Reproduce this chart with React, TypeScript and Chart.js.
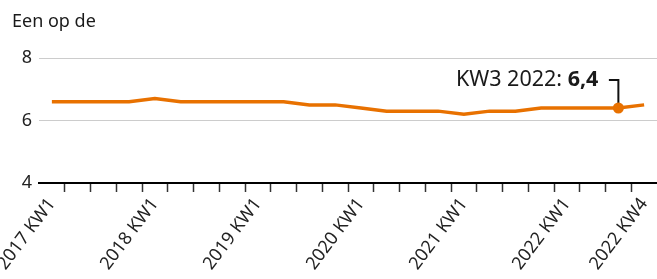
import React, { useEffect, useRef } from 'react';
import { Chart, registerables } from 'chart.js';

Chart.register(...registerables);

const categories = [
  '2017 KW1', '2017 KW2', '2017 KW3', '2017 KW4',
  '2018 KW1', '2018 KW2', '2018 KW3', '2018 KW4',
  '2019 KW1', '2019 KW2', '2019 KW3', '2019 KW4',
  '2020 KW1', '2020 KW2', '2020 KW3', '2020 KW4',
  '2021 KW1', '2021 KW2', '2021 KW3', '2021 KW4',
  '2022 KW1', '2022 KW2', '2022 KW3', '2022 KW4',
];
const values = [
  6.6, 6.6, 6.6, 6.6,
  6.7, 6.6, 6.6, 6.6,
  6.6, 6.6, 6.5, 6.5,
  6.4, 6.3, 6.3, 6.3,
  6.2, 6.3, 6.3, 6.4,
  6.4, 6.4, 6.4, 6.5,
];
const shownLabels = ['2017 KW1', '2018 KW1', '2019 KW1', '2020 KW1', '2021 KW1', '2022 KW1', '2022 KW4'];
const yMin = 4;
const yMax = 8;
const yStep = 2;
const titleText = 'Een op de';
const highlightIndex = 22;
const highlightPrefix = 'KW3 2022: ';
const highlightValue = '6,4';

const ORANGE = '#e87100';
const FONT = '"Noto Sans", sans-serif';

const overlayPlugin = {
  id: 'overlay',
  afterDraw(chart: any) {
    const ctx = chart.ctx;
    ctx.save();
    ctx.fillStyle = '#1a1a1a';
    ctx.font = `18px ${FONT}`;
    ctx.textAlign = 'left';
    ctx.textBaseline = 'alphabetic';
    ctx.fillText(titleText, 12, 27);

    const meta = chart.getDatasetMeta(0);
    const pt = meta.data[highlightIndex];
    if (pt) {
      const px = pt.x;
      const py = pt.y;
      const lineY = py - 28;
      const textRight = px - 20;
      const baseY = py - 22;
      ctx.font = `bold 21.5px ${FONT}`;
      const wBold = ctx.measureText(highlightValue).width;
      ctx.fillText(highlightValue, textRight - wBold, baseY);
      ctx.font = `21.5px ${FONT}`;
      const wReg = ctx.measureText(highlightPrefix).width;
      ctx.fillText(highlightPrefix, textRight - wBold - wReg, baseY);
      ctx.strokeStyle = '#111';
      ctx.lineWidth = 2;
      ctx.beginPath();
      ctx.moveTo(px - 9.5, lineY);
      ctx.lineTo(px, lineY);
      ctx.lineTo(px, py);
      ctx.stroke();
      ctx.fillStyle = ORANGE;
      ctx.beginPath();
      ctx.arc(px, py, 5.5, 0, Math.PI * 2);
      ctx.fill();
    }
    ctx.restore();
  },
};

export default function App() {
  const canvasRef = useRef<HTMLCanvasElement | null>(null);

  useEffect(() => {
    if (!canvasRef.current) return;
    const chart = new Chart(canvasRef.current, {
      type: 'line',
      data: {
        labels: categories,
        datasets: [
          {
            data: values,
            borderColor: ORANGE,
            backgroundColor: ORANGE,
            borderWidth: 3.5,
            tension: 0,
            pointRadius: 0,
            pointHoverRadius: 0,
            fill: false,
          },
        ],
      },
      options: {
        animation: false,
        responsive: true,
        maintainAspectRatio: false,
        events: [],
        layout: { padding: { top: 58, left: 0, right: 0, bottom: 0 } },
        plugins: {
          legend: { display: false },
          tooltip: { enabled: false },
          title: { display: false },
        },
        scales: {
          x: {
            offset: true,
            grid: {
              offset: true,
              drawOnChartArea: false,
              drawTicks: true,
              tickLength: 9,
              tickWidth: 1.5,
              tickColor: (c: any) => (c.type !== 'tick' || c.index === 0 ? 'rgba(0,0,0,0)' : '#333'),
            },
            border: { display: true, color: '#000', width: 2, z: 1 },
            ticks: {
              autoSkip: false,
              minRotation: 53,
              maxRotation: 53,
              padding: 2,
              color: '#222',
              font: { family: FONT, size: 18 },
              callback: (_v: any, i: number) => (shownLabels.includes(categories[i]) ? categories[i] : ''),
            },
            afterFit: (s: any) => {
              s.height = 96;
              s.paddingLeft = 0;
              s.paddingRight = 0;
            },
          },
          y: {
            min: yMin,
            max: yMax,
            border: { display: false },
            grid: {
              color: (c: any) => (c.tick && c.tick.value === yMin ? 'rgba(0,0,0,0)' : '#cccccc'),
              lineWidth: 1,
              drawTicks: false,
            },
            ticks: {
              stepSize: yStep,
              padding: 7,
              color: '#222',
              font: { family: FONT, size: 18 },
            },
            afterFit: (s: any) => {
              s.width = 39;
            },
          },
        },
      },
      plugins: [overlayPlugin],
    });
    return () => chart.destroy();
  }, []);

  return (
    <div style={{ position: 'fixed', left: 0, top: 0, width: 657, height: 279 }}>
      <canvas ref={canvasRef} />
    </div>
  );
}
